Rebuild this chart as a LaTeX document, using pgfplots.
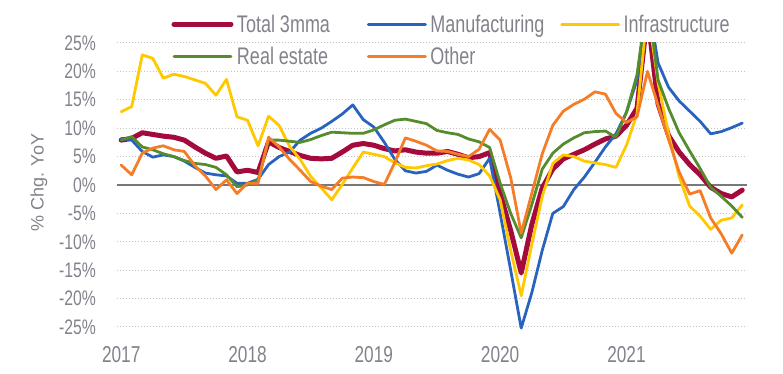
\documentclass[border=0pt]{standalone}
\usepackage{fontspec}
\setmainfont{Liberation Sans}[FakeStretch=0.75]
\newfontfamily\plainsans{Liberation Sans}
\usepackage{pgfplots}
\usepackage{pgfplotstable}
\pgfplotsset{compat=1.18}
\definecolor{ctotal}{RGB}{165,10,60}
\definecolor{cmanu}{RGB}{40,100,190}
\definecolor{cinfra}{RGB}{255,200,0}
\definecolor{creal}{RGB}{85,140,45}
\definecolor{cother}{RGB}{245,125,40}
\definecolor{ctext}{RGB}{130,130,140}
\definecolor{cgrid}{RGB}{195,195,195}
\definecolor{czero}{RGB}{120,120,120}
\pgfplotstableread{
m total manuf infra real other
0 7.9 8.2 12.9 7.9 3.5
1 8.2 7.9 13.8 8.5 1.8
2 9.2 5.9 22.9 6.7 5.6
3 8.9 4.9 22.3 6.2 6.5
4 8.6 5.3 18.8 5.5 6.9
5 8.4 5.0 19.5 5.0 6.2
6 7.9 4.2 19.1 4.3 5.9
7 6.7 3.1 18.5 3.8 3.4
8 5.6 2.1 17.9 3.6 1.6
9 4.7 1.8 15.8 3.1 -0.8
10 5.1 1.6 18.6 1.8 0.9
11 2.3 0.3 12.0 -0.3 -1.5
12 2.6 0.3 11.4 0.0 0.3
13 2.2 1.0 6.9 0.9 0.3
14 7.6 3.6 12.1 7.9 8.4
15 6.6 5.0 10.5 7.9 6.7
16 5.9 5.8 6.8 7.7 4.5
17 5.2 7.9 4.5 7.5 2.6
18 4.7 9.1 1.5 8.0 0.6
19 4.6 10.0 -0.5 8.7 -0.2
20 4.7 11.2 -2.6 9.3 -0.8
21 5.8 12.5 0.1 9.2 1.2
22 7.0 14.1 3.0 9.1 1.4
23 7.3 11.5 5.8 9.1 1.3
24 7.0 10.2 5.4 9.7 0.6
25 6.4 7.5 5.0 10.6 0.1
26 6.0 4.5 3.9 11.4 4.0
27 6.2 2.5 3.1 11.6 8.3
28 5.8 2.1 3.0 11.2 7.7
29 5.6 2.4 3.4 10.8 7.0
30 5.6 3.5 3.7 9.6 6.0
31 5.9 2.6 4.3 9.2 5.9
32 5.4 1.9 4.7 8.9 5.4
33 4.8 1.4 4.4 8.1 5.0
34 5.0 2.0 3.6 7.6 6.3
35 5.7 4.7 1.6 6.6 9.8
36 -1.5 -5.0 -2.6 0.3 7.9
37 -8.0 -15.0 -11.5 -5.0 1.3
38 -15.5 -25.2 -19.5 -9.3 -8.5
39 -7.0 -19.0 -10.5 -3.5 -1.5
40 -0.5 -11.5 -2.0 2.8 5.5
41 2.8 -5.0 3.8 5.6 10.5
42 4.6 -3.8 5.3 7.2 13.0
43 5.4 -0.8 5.0 8.3 14.2
44 6.2 1.4 4.2 9.2 15.1
45 7.2 4.0 3.9 9.4 16.4
46 8.1 6.7 3.6 9.5 16.0
47 8.6 9.0 3.1 8.4 12.6
48 10.5 12.8 7.0 12.8 11.0
49 13.5 18.5 12.5 19.4 12.0
50 30.0 33.0 31.0 33.0 20.0
51 14.3 21.5 18.0 18.5 14.0
52 8.7 17.2 9.0 13.5 8.0
53 5.8 14.8 1.5 9.2 2.3
54 3.6 13.0 -3.7 6.0 -1.6
55 1.8 11.2 -5.5 2.9 -1.0
56 -0.4 9.0 -7.8 -0.4 -5.8
57 -1.5 9.4 -6.2 -2.0 -8.6
58 -2.1 10.1 -5.8 -3.7 -12.0
59 -0.9 10.9 -3.5 -5.7 -8.8
}\datatable
\begin{document}
\begin{tikzpicture}
\useasboundingbox (-117bp,-43.6bp) rectangle (666bp,330.4bp);
\begin{axis}[
  at={(0,0)}, anchor=south west,
  scale only axis, width=630bp, height=287.4bp,
  xmin=-0.4, xmax=59.45, ymin=-25.6, ymax=25,
  axis line style={draw=none},
  major tick length=0pt,
  tick style={draw=none},
  xtick={0,12,24,36,48}, xticklabels={2017,2018,2019,2020,2021},
  ytick={-25,-20,...,25},
  yticklabel={\pgfmathprintnumber[assume math mode=true]{\tick}\%},
  ymajorgrids,
  grid style={cgrid, line width=1bp, dash pattern=on 1.5bp off 1.5bp},
  extra y ticks={0}, extra y tick labels={},
  extra y tick style={ymajorgrids=true, grid style={solid, line width=2bp, draw=czero}},
  yticklabel style={font=\fontsize{21bp}{21bp}\selectfont, text=ctext, inner sep=0pt, anchor=east, xshift=-21bp},
  xticklabel style={font=\fontsize{23bp}{23bp}\selectfont, text=ctext, inner sep=0pt, anchor=north, yshift=-16bp},
  ylabel={\% Chg. YoY},
  ylabel style={font=\plainsans\fontsize{18bp}{18bp}\selectfont, text=ctext, at={(axis description cs:-0.124,0.514)}, anchor=center},
  legend columns=3,
  legend cell align=left,
  legend image code/.code={\draw[#1] (0bp,0bp) -- (57bp,0bp);},
  legend style={draw=none, fill=none, at={(axis description cs:0.0865,1.095)}, anchor=north west,
    inner sep=0pt, outer sep=0pt, row sep=15bp, column sep=0bp,
    font=\fontsize{24bp}{24bp}\selectfont, text=ctext,
    nodes={inner sep=0pt, text height=17bp, text depth=0bp},
    /tikz/every odd column/.append style={column sep=3.5bp}},
  every axis plot/.append style={line join=round, line cap=round},
]
\addplot[ctotal, line width=5bp] table[x=m, y=total] {\datatable};
\addlegendentry{\makebox[130bp][l]{Total 3mma}}
\addplot[cmanu, line width=2.8bp] table[x=m, y=manuf] {\datatable};
\addlegendentry{\makebox[130bp][l]{Manufacturing}}
\addplot[cinfra, line width=2.8bp] table[x=m, y=infra] {\datatable};
\addlegendentry{\makebox[130bp][l]{Infrastructure}}
\addplot[creal, line width=2.8bp] table[x=m, y=real] {\datatable};
\addlegendentry{\makebox[130bp][l]{Real estate}}
\addplot[cother, line width=2.8bp] table[x=m, y=other] {\datatable};
\addlegendentry{\makebox[130bp][l]{Other}}
\end{axis}
\end{tikzpicture}
\end{document}
